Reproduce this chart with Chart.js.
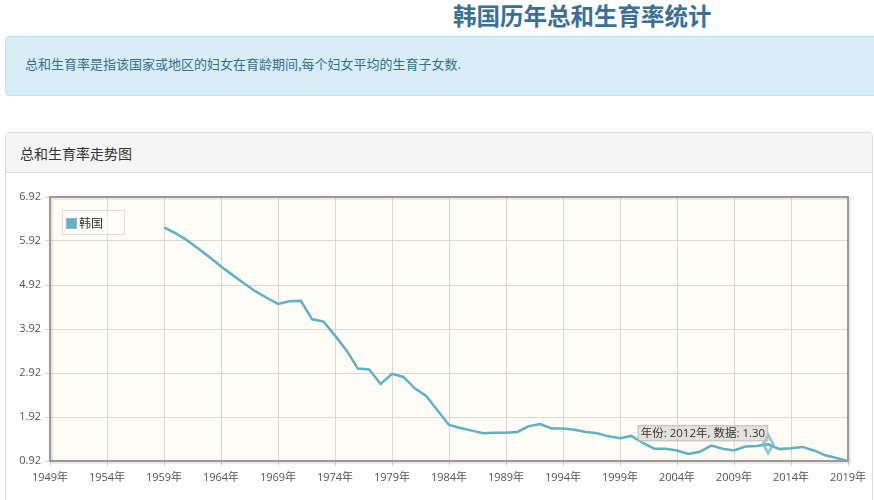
<!DOCTYPE html>
<html lang="zh-CN">
<head>
<meta charset="utf-8">
<title>韩国历年总和生育率统计</title>
<script src="https://cdn.jsdelivr.net/npm/chart.js@4.4.0/dist/chart.umd.min.js"></script>
<style>
    html, body {
        margin: 0;
        padding: 0;
        background: #fff;
        width: 874px;
        height: 500px;
        overflow: hidden;
        font-family: "Noto Sans CJK SC", "Noto Sans", sans-serif;
    }
    .page-title {
        position: absolute;
        left: 453px;
        top: 0;
        margin: 0;
        font-size: 23.5px;
        line-height: 30px;
        font-weight: bold;
        color: #3b6f96;
        white-space: nowrap;
    }
    .info-box {
        position: absolute;
        left: 5px;
        top: 36px;
        width: 890px;
        height: 60px;
        background: #d9edf7;
        border: 1px solid #bce8f1;
        border-radius: 4px;
        color: #31708f;
        font-size: 13px;
        box-sizing: border-box;
    }
    .info-box p {
        margin: 0;
        position: absolute;
        left: 19px;
        top: 17px;
        white-space: nowrap;
    }
    .panel {
        position: absolute;
        left: 5px;
        top: 132px;
        width: 868px;
        height: 400px;
        border: 1px solid #ddd;
        border-radius: 4px;
        box-sizing: border-box;
        background: #fff;
    }
    .panel-heading {
        height: 40px;
        background: #f5f5f5;
        border-bottom: 1px solid #ddd;
        box-sizing: border-box;
        font-size: 14px;
        line-height: 40px;
        padding-left: 14px;
        color: #333;
    }
    #trendChart {
        position: absolute;
        left: 0;
        top: 180px;
    }
    .legend {
        position: absolute;
        left: 62px;
        top: 210px;
        width: 63px;
        height: 25px;
        box-sizing: border-box;
        border: 1px solid #ddd;
        background: rgba(255, 255, 255, 0.6);
        font-size: 12px;
        color: #333;
        line-height: 23px;
        white-space: nowrap;
    }
    .legend span.swatch {
        display: inline-block;
        width: 11px;
        height: 11px;
        margin: 0 2px 0 3px;
        vertical-align: -1px;
        border: 1px solid #8fb9c4;
        box-sizing: border-box;
    }
</style>
</head>
<body>
<h1 class="page-title">韩国历年总和生育率统计</h1>
<div class="info-box"><p>总和生育率是指该国家或地区的妇女在育龄期间,每个妇女平均的生育子女数.</p></div>
<div class="panel">
    <div class="panel-heading">总和生育率走势图</div>
</div>
<canvas id="trendChart" width="874" height="320"></canvas>
<div class="legend" id="legend"></div>

<script>
// 年份与总和生育率数据
const years = [
    1959, 1960, 1961, 1962, 1963, 1964, 1965, 1966, 1967, 1968,
    1969, 1970, 1971, 1972, 1973, 1974, 1975, 1976, 1977, 1978,
    1979, 1980, 1981, 1982, 1983, 1984, 1985, 1986, 1987, 1988,
    1989, 1990, 1991, 1992, 1993, 1994, 1995, 1996, 1997, 1998,
    1999, 2000, 2001, 2002, 2003, 2004, 2005, 2006, 2007, 2008,
    2009, 2010, 2011, 2012, 2013, 2014, 2015, 2016, 2017, 2018,
    2019
];
const fertility = [
    6.23, 6.10, 5.94, 5.75, 5.55, 5.34, 5.15, 4.96, 4.78, 4.63,
    4.49, 4.55, 4.56, 4.14, 4.09, 3.77, 3.44, 3.02, 3.00, 2.67,
    2.90, 2.83, 2.57, 2.40, 2.07, 1.74, 1.67, 1.61, 1.55, 1.56,
    1.56, 1.58, 1.71, 1.76, 1.66, 1.66, 1.63, 1.58, 1.55, 1.48,
    1.44, 1.49, 1.33, 1.20, 1.20, 1.16, 1.08, 1.13, 1.27, 1.20,
    1.16, 1.25, 1.26, 1.30, 1.19, 1.21, 1.24, 1.16, 1.05, 0.99,
    0.92
];

// 坐标轴刻度
const xTicks = [1949, 1954, 1959, 1964, 1969, 1974, 1979, 1984, 1989, 1994, 1999, 2004, 2009, 2014, 2019];
const yTicks = [0.92, 1.92, 2.92, 3.92, 4.92, 5.92, 6.92];

const seriesName = '韩国';
const lineColor = '#5fb1c3';
const highlightYear = 2012;

let trendChart = null;

// 绘图区背景和边框
const plotAreaPlugin = {
    id: 'plotArea',
    beforeDraw(chart) {
        const { ctx, chartArea: a } = chart;
        ctx.save();
        ctx.fillStyle = '#fffdf6';
        ctx.fillRect(a.left, a.top, a.right - a.left, a.bottom - a.top);
        ctx.restore();
    },
    afterDatasetsDraw(chart) {
        const { ctx, chartArea: a } = chart;
        ctx.save();
        // 阴影
        ctx.strokeStyle = 'rgba(0,0,0,0.08)';
        ctx.lineWidth = 3;
        ctx.strokeRect(a.left + 1.5, a.top + 1.5, a.right - a.left, a.bottom - a.top);
        ctx.strokeStyle = '#9a9a9a';
        ctx.lineWidth = 2;
        ctx.strokeRect(a.left, a.top, a.right - a.left, a.bottom - a.top);
        ctx.restore();
    }
};

// 高亮点和提示框（年份: 2012年）
const highlightPlugin = {
    id: 'highlight',
    afterDraw(chart) {
        const idx = years.indexOf(highlightYear);
        if (idx < 0) return;
        const ctx = chart.ctx;
        const px = chart.scales.x.getPixelForValue(years[idx]);
        const py = chart.scales.y.getPixelForValue(fertility[idx]);

        ctx.save();
        // 菱形标记
        ctx.beginPath();
        ctx.moveTo(px, py - 9);
        ctx.lineTo(px + 5, py);
        ctx.lineTo(px, py + 9);
        ctx.lineTo(px - 5, py);
        ctx.closePath();
        ctx.lineWidth = 3;
        ctx.strokeStyle = 'rgba(110, 185, 200, 0.75)';
        ctx.stroke();

        // 提示框
        const text = '年份: ' + years[idx] + '年, 数据: ' + fertility[idx].toFixed(2);
        ctx.font = '11.5px "Open Sans", "Noto Sans CJK SC", sans-serif';
        const w = ctx.measureText(text).width + 6;
        const h = 16;
        const bx = px - w;
        const by = py - 3 - h;
        ctx.fillStyle = 'rgba(208, 208, 208, 0.6)';
        ctx.fillRect(bx, by, w, h);
        ctx.strokeStyle = 'rgba(180, 180, 180, 0.8)';
        ctx.lineWidth = 1;
        ctx.strokeRect(bx + 0.5, by + 0.5, w - 1, h - 1);
        ctx.fillStyle = '#333';
        ctx.textBaseline = 'middle';
        ctx.fillText(text, bx + 3, by + h / 2 + 0.5);
        ctx.restore();
    }
};

// 绘制生育率走势图
function drawTrendChart() {
    const ctx = document.getElementById('trendChart');
    if (trendChart) {
        trendChart.destroy();
    }

    const tickFont = { family: '"Open Sans", "Noto Sans CJK SC", sans-serif', size: 11 };

    trendChart = new Chart(ctx, {
        type: 'line',
        data: {
            datasets: [{
                label: seriesName,
                data: years.map((y, i) => ({ x: y, y: fertility[i] })),
                borderColor: lineColor,
                backgroundColor: lineColor,
                borderWidth: 2.5,
                pointRadius: 0,
                tension: 0,
                fill: false
            }]
        },
        options: {
            responsive: false,
            animation: false,
            layout: {
                padding: { left: 5, right: 26, top: 17, bottom: 9 }
            },
            plugins: {
                legend: { display: false },
                tooltip: { enabled: false }
            },
            scales: {
                x: {
                    type: 'linear',
                    min: 1949,
                    max: 2019,
                    afterBuildTicks: s => { s.ticks = xTicks.map(v => ({ value: v })); },
                    afterFit: s => { s.height = 30; },
                    grid: { color: '#d8d8d8', tickLength: 5, lineWidth: 1 },
                    border: { display: false },
                    ticks: {
                        font: tickFont,
                        color: '#555',
                        padding: 5,
                        maxRotation: 0,
                        autoSkip: false,
                        callback: v => v + '年'
                    }
                },
                y: {
                    type: 'linear',
                    min: 0.92,
                    max: 6.92,
                    afterBuildTicks: s => { s.ticks = yTicks.map(v => ({ value: v })); },
                    afterFit: s => { s.width = 45; },
                    grid: { color: '#d8d8d8', tickLength: 5, lineWidth: 1 },
                    border: { display: false },
                    ticks: {
                        font: tickFont,
                        color: '#555',
                        padding: 4,
                        callback: v => v.toFixed(2)
                    }
                }
            }
        },
        plugins: [plotAreaPlugin, highlightPlugin]
    });

    // 图例
    const legend = document.getElementById('legend');
    const ds = trendChart.data.datasets[0];
    legend.innerHTML = '<span class="swatch" style="background:' + ds.borderColor + '"></span>' + ds.label;
}

drawTrendChart();
</script>
</body>
</html>
